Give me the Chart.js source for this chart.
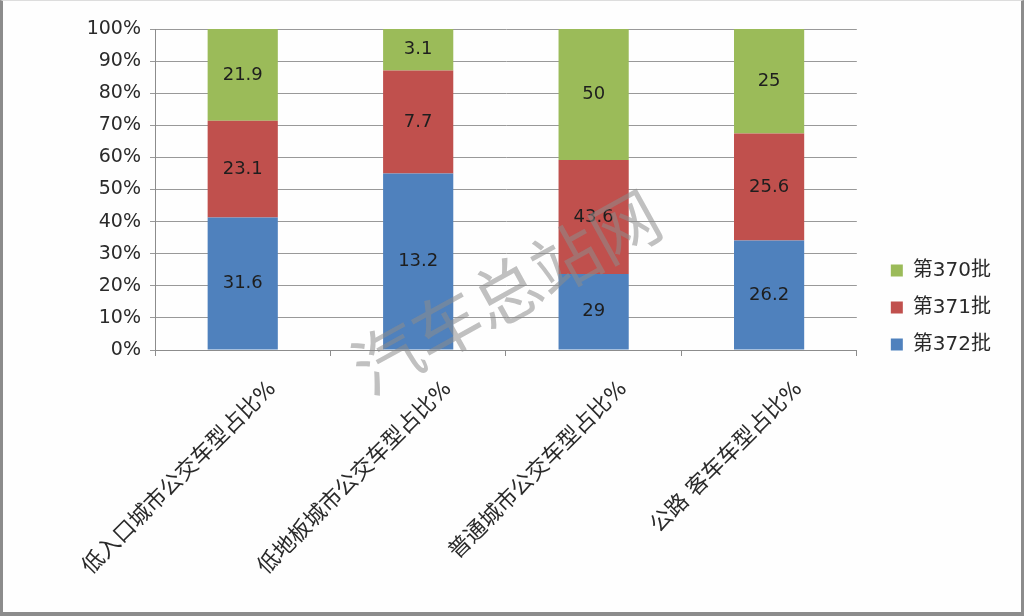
<!DOCTYPE html>
<html lang="zh">
<head>
    <meta charset="UTF-8">
    <title>车型占比</title>
    <script src="https://cdn.jsdelivr.net/npm/chart.js"></script>
    <style>
        body {
            margin: 0;
            background: #fff;
        }

        .frame {
            width: 1024px;
            height: 616px;
            box-sizing: border-box;
            border-left: 3px solid #8c8c8c;
            border-right: 3px solid #8c8c8c;
            border-bottom: 4px solid #8c8c8c;
            border-top: 1px solid #ddd;
            background: #fefefe;
        }
    </style>
</head>
<body>
    <div class="frame">
        <canvas id="chart" width="1018" height="611"></canvas>
    </div>
    <script>
        // categories and raw values (labels show raw values, bars are 100% stacked)
        const categories = ['低入口城市公交车型占比%', '低地板城市公交车型占比%', '普通城市公交车型占比%', '公路 客车车型占比%'];
        const batch372 = [31.6, 13.2, 29, 26.2];
        const batch371 = [23.1, 7.7, 43.6, 25.6];
        const batch370 = [21.9, 3.1, 50, 25];
        const yTicks = [0, 10, 20, 30, 40, 50, 60, 70, 80, 90, 100];

        const totals = categories.map((c, i) => batch372[i] + batch371[i] + batch370[i]);
        const toPct = arr => arr.map((v, i) => v / totals[i] * 100);

        const font = "'DejaVu Sans', 'Noto Sans CJK SC', sans-serif";

        // draw the raw value in the middle of each segment
        const valueLabels = {
            id: 'valueLabels',
            afterDatasetsDraw(chart) {
                const ctx = chart.ctx;
                ctx.save();
                ctx.font = '18px ' + font;
                ctx.fillStyle = '#1e1e1e';
                ctx.textAlign = 'center';
                ctx.textBaseline = 'middle';
                chart.data.datasets.forEach((ds, di) => {
                    chart.getDatasetMeta(di).data.forEach((bar, i) => {
                        const y = (bar.y + bar.base) / 2;
                        ctx.fillText(String(ds.raw[i]), bar.x, y);
                    });
                });
                ctx.restore();
            }
        };

        // site watermark across the middle
        const watermark = {
            id: 'watermark',
            afterDraw(chart) {
                const ctx = chart.ctx;
                ctx.save();
                ctx.translate(507, 298);
                ctx.rotate(-29 * Math.PI / 180);
                ctx.font = '68px ' + font;
                ctx.fillStyle = 'rgba(140, 140, 140, 0.55)';
                ctx.textAlign = 'center';
                ctx.textBaseline = 'middle';
                ctx.fillText('汽车总站网', 0, 0);
                ctx.restore();
            }
        };

        new Chart(document.getElementById('chart'), {
            type: 'bar',
            data: {
                labels: categories,
                datasets: [
                    { label: '第372批', data: toPct(batch372), raw: batch372, backgroundColor: '#4f81bd' },
                    { label: '第371批', data: toPct(batch371), raw: batch371, backgroundColor: '#c0504d' },
                    { label: '第370批', data: toPct(batch370), raw: batch370, backgroundColor: '#9bbb59' }
                ]
            },
            options: {
                responsive: false,
                animation: false,
                layout: {
                    padding: { top: 28, bottom: 26, left: 0, right: 20 }
                },
                datasets: {
                    bar: { categoryPercentage: 1, barPercentage: 0.4 }
                },
                scales: {
                    x: {
                        stacked: true,
                        afterFit: s => { s.height = 236; },
                        border: { color: '#8c8c8c' },
                        grid: { offset: true, drawOnChartArea: false, tickLength: 6, color: '#8c8c8c' },
                        ticks: {
                            minRotation: 45,
                            maxRotation: 45,
                            labelOffset: 30,
                            padding: 20,
                            color: '#2a2a2a',
                            font: { size: 22, family: font }
                        }
                    },
                    y: {
                        stacked: true,
                        min: 0,
                        max: 100,
                        afterFit: s => { s.width = 152; },
                        afterBuildTicks: s => { s.ticks = yTicks.map(v => ({ value: v })); },
                        border: { color: '#8c8c8c' },
                        grid: { color: '#999', tickLength: 5 },
                        ticks: {
                            padding: 9,
                            color: '#2a2a2a',
                            font: { size: 19, family: font },
                            callback: v => v + '%'
                        }
                    },
                    // empty gap between plot and legend
                    gap: {
                        type: 'linear',
                        position: 'right',
                        afterFit: s => { s.width = 17; },
                        grid: { display: false },
                        border: { display: false },
                        ticks: { display: false }
                    }
                },
                plugins: {
                    legend: {
                        position: 'right',
                        reverse: true,
                        labels: {
                            boxWidth: 12,
                            boxHeight: 12,
                            padding: 17,
                            color: '#2a2a2a',
                            font: { size: 20, family: font }
                        }
                    },
                    tooltip: { enabled: false }
                }
            },
            plugins: [valueLabels, watermark]
        });
    </script>
</body>
</html>
